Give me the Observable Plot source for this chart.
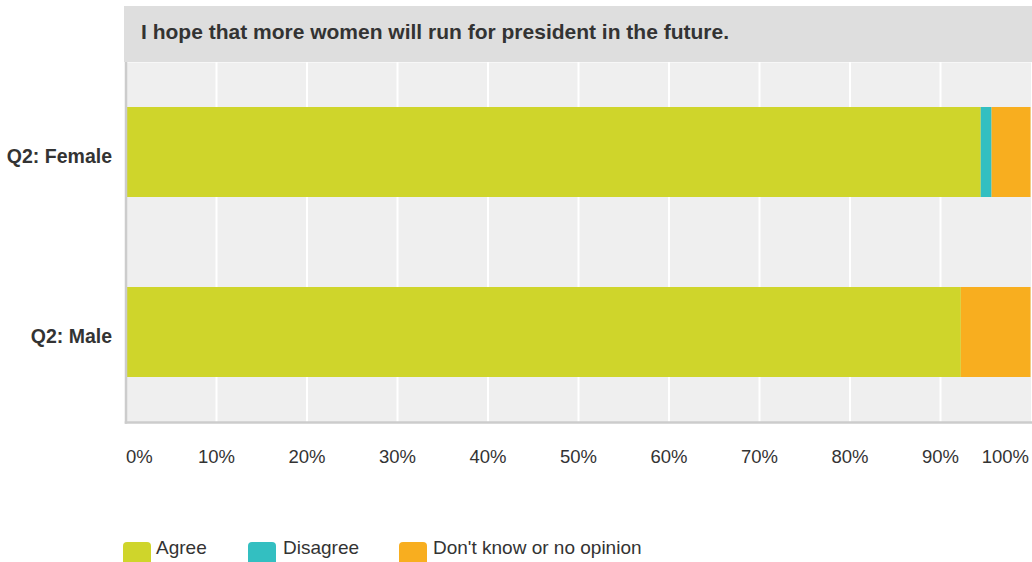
<!DOCTYPE html>
<html>
<head>
<meta charset="utf-8">
<script src="https://cdn.jsdelivr.net/npm/d3@7"></script>
<script src="https://cdn.jsdelivr.net/npm/@observablehq/plot@0.6"></script>
<style>
  html, body { margin: 0; padding: 0; background: #fff; overflow: hidden; width: 1032px; height: 562px; }
  body { font-family: "Liberation Sans", Arial, Helvetica, sans-serif; position: relative; }
  #title { position: absolute; left: 124px; top: 6px; width: 908px; height: 56px; background: #dedede;
           box-sizing: border-box; padding-left: 17px; line-height: 52px; font-weight: bold; font-size: 21px; color: #333; white-space: nowrap; }
  #chart { position: absolute; left: 0; top: 62px; }
  .sw { position: absolute; top: 542px; width: 28px; height: 26px; border-radius: 4px; }
  .lab { position: absolute; top: 538px; line-height: 20px; font-size: 19px; color: #333; white-space: nowrap; }
</style>
</head>
<body>
<div id="title"></div>
<div id="chart"></div>
<div id="legend"></div>
<script>
const titleText = "I hope that more women will run for president in the future.";
const groups = ["Q2: Female", "Q2: Male"];
const answers = ["Agree", "Disagree", "Don't know or no opinion"];
const colors = ["#cfd52b", "#33bfc1", "#f8ae1f"];
const femaleValues = [94.5, 1.2, 4.3];
const maleValues = [92.3, 0, 7.7];
const tickValues = [0, 10, 20, 30, 40, 50, 60, 70, 80, 90, 100];

document.getElementById("title").textContent = titleText;

const seriesByGroup = [femaleValues, maleValues];
const rows = [];
groups.forEach((g, gi) => answers.forEach((a, ai) => rows.push({group: g, answer: a, value: seriesByGroup[gi][ai]})));

const tickOpts = {tickSize: 0, tickPadding: 27, fontSize: 18.5, tickFormat: d => d + "%", label: null, fill: "#333"};

const chart = Plot.plot({
  width: 1032,
  height: 420,
  marginLeft: 125.5,
  marginRight: 1.5,
  marginTop: 0,
  marginBottom: 60,
  style: {fontFamily: "'Liberation Sans', Arial, Helvetica, sans-serif", color: "#333", background: "transparent"},
  x: {domain: [0, 100], axis: null},
  y: {domain: groups, paddingInner: 0.5, paddingOuter: 0.25, axis: null},
  color: {domain: answers, range: colors},
  marks: [
    Plot.frame({fill: "#efefef", stroke: null}),
    Plot.gridX(tickValues.slice(1, -1), {stroke: "#ffffff", strokeOpacity: 1, strokeWidth: 2}),
    Plot.barX(rows, Plot.stackX({x: "value", y: "group", fill: "answer", order: answers})),
    Plot.frame({anchor: "left", stroke: "#cccccc", strokeWidth: 2.5}),
    Plot.frame({anchor: "bottom", stroke: "#cccccc", strokeWidth: 2.5}),
    Plot.axisX([0], {...tickOpts, textAnchor: "start"}),
    Plot.axisX(tickValues.slice(1, -1), tickOpts),
    Plot.axisX([100], {...tickOpts, textAnchor: "end", dx: -2}),
    Plot.axisY({tickSize: 0, tickPadding: 14, dy: 4, fontSize: 19.5, fontWeight: "bold", label: null, fill: "#333"})
  ]
});
document.getElementById("chart").appendChild(chart);

const legend = document.getElementById("legend");
const swatchLeft = [123, 248, 399];
const labelLeft = [156, 283, 433];
answers.forEach((a, i) => {
  const sw = document.createElement("div");
  sw.className = "sw";
  sw.style.left = swatchLeft[i] + "px";
  sw.style.background = colors[i];
  const lab = document.createElement("div");
  lab.className = "lab";
  lab.style.left = labelLeft[i] + "px";
  lab.textContent = a;
  legend.appendChild(sw);
  legend.appendChild(lab);
});
</script>
</body>
</html>
